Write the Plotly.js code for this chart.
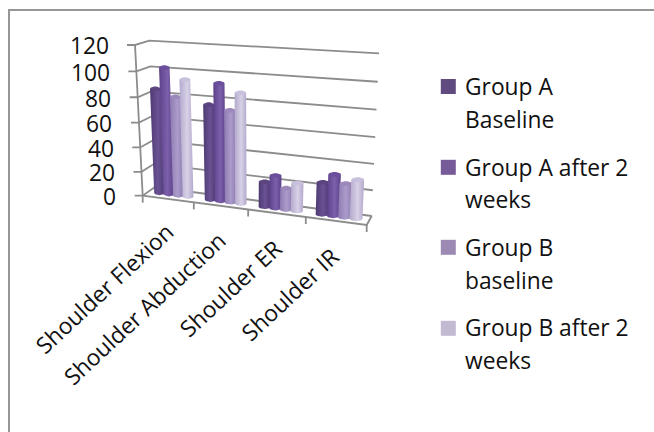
<!DOCTYPE html>
<html>
<head>
<meta charset="utf-8">
<script src="https://cdn.plot.ly/plotly-3.0.1.min.js"></script>
<style>html,body{margin:0;padding:0;background:#fff}</style>
</head>
<body>
<div id="chart" style="width:654px;height:432px"></div>
<script>
const categories = ['Shoulder Flexion', 'Shoulder Abduction', 'Shoulder ER', 'Shoulder IR'];
const groupABaseline = [85, 76, 20, 25];
const groupAAfter = [102, 93, 26, 32];
const groupBBaseline = [80, 73, 17, 26];
const groupBAfter = [94, 87, 22, 30];
const valueTicks = [0, 20, 40, 60, 80, 100, 120];
const seriesLines = [['Group A', 'Baseline'], ['Group A after 2', 'weeks'], ['Group B', 'baseline'], ['Group B after 2', 'weeks']];
const swatchColors = ['#5f4b7f', '#775a98', '#9d8ab4', '#c2bad2'];
const bodyColors = [['#4e3a72', '#6a5294'], ['#5c4089', '#7d60ab'], ['#8d7bb0', '#ac9ccb'], ['#b3a9cc', '#d8d1e7']];
const capColors = ['#5c4480', '#6c4e9c', '#9c88ba', '#c8c0dc'];

const allSeries = [groupABaseline, groupAAfter, groupBBaseline, groupBAfter];
const FONT = 'Open Sans, Noto Sans, sans-serif';
const TEXT = '#111111';
const GRID = '#8c8c8c';

// Oblique projection of the 3D box: floor corners and height vectors per value unit.
const floorFL = [142.7, 195.7], floorFR = [366.7, 225], floorBL = [155, 187], floorBR = [371.7, 216];
const riseFL = [-0.064, -1.256], riseFR = [0.07, -1.39], riseBL = [-0.0475, -1.219], riseBR = [0.061, -1.356];
const mix = (a, b, t) => [a[0] + (b[0] - a[0]) * t, a[1] + (b[1] - a[1]) * t];
const along = u => (49.25 * u + 1.625 * u * u) / 223;
const lift = v => v - 0.0005 * v * (120 - v);
function project(u, depth, v) {
  const s = along(u);
  const base = mix(mix(floorFL, floorFR, s), mix(floorBL, floorBR, s), depth);
  const rise = mix(mix(riseFL, riseFR, s), mix(riseBL, riseBR, s), depth);
  const h = lift(v);
  return [base[0] + rise[0] * h, base[1] + rise[1] * h];
}
// Page position to axis units: categories along x, value units along y.
const toX = px => (px - 142.7) / 55.75;
const toY = py => (195.7 - py) / 1.256;
const pairs = pts => ({ x: pts.map(p => p === null ? null : toX(p[0])), y: pts.map(p => p === null ? null : toY(p[1])) });

const traces = [];
function gridTrace(pts, width) {
  traces.push(Object.assign(pairs(pts), { type: 'scatter', mode: 'lines', line: { color: GRID, width: width || 1.8 }, hoverinfo: 'skip', showlegend: false }));
}

// Walls, floor and tick marks
const wallLines = [];
valueTicks.forEach(v => {
  const front = project(0, 0, v), back = project(0, 1, v), right = project(4, 1, v);
  wallLines.push([front[0] - 8, front[1]], front, back, right, null);
});
gridTrace(wallLines);
const floorLines = [project(0, 0, 0), project(0, 0, 120), null, project(0, 0, 0), project(4, 0, 0), project(4, 1, 0), null];
categories.concat(['']).forEach((c, i) => {
  const p = project(i, 0, 0);
  floorLines.push(p, [p[0], p[1] + 7], null);
});
gridTrace(floorLines);

// Cylinders
const PITCH = 0.19, RADIUS = 0.105, RY = 2.4, DEPTH = 0.5, START = 0.215;
function ellipseArc(c, rx, ry, a0, a1) {
  const pts = [];
  for (let i = 0; i <= 14; i++) {
    const a = a0 + (a1 - a0) * i / 14;
    pts.push([c[0] + rx * Math.cos(a), c[1] + ry * Math.sin(a)]);
  }
  return pts;
}
categories.forEach((cat, ci) => {
  allSeries.forEach((vals, si) => {
    const u = ci + START + PITCH * si;
    const c = project(u, DEPTH, 0), t = project(u, DEPTH, vals[ci]);
    const rx = project(u + RADIUS, DEPTH, 0)[0] - c[0];
    const name = seriesLines[si].join(' ');
    const body = ellipseArc(c, rx, RY, 0, Math.PI).concat([[t[0] - rx, t[1]], [t[0] + rx, t[1]]]);
    body.push(body[0]);
    traces.push(Object.assign(pairs(body), {
      type: 'scatter', mode: 'lines', name, fill: 'toself', line: { width: 0 }, hoverinfo: 'skip', showlegend: false,
      fillgradient: { type: 'horizontal', colorscale: [[0, bodyColors[si][0]], [0.55, bodyColors[si][1]], [1, bodyColors[si][0]]] }
    }));
    traces.push(Object.assign(pairs(ellipseArc(t, rx, RY, 0, 2 * Math.PI)), {
      type: 'scatter', mode: 'lines', name, fill: 'toself', fillcolor: capColors[si], line: { width: 0 }, hoverinfo: 'skip', showlegend: false
    }));
  });
});

// Legend swatches
const legendY = [86.5, 167.3, 247.3, 328.3];
traces.push({
  type: 'scatter', mode: 'markers', x: legendY.map(() => toX(448.3)), y: legendY.map(toY),
  marker: { symbol: 'square', size: 15, color: swatchColors, line: { width: 0 } }, hoverinfo: 'skip', showlegend: false
});

const annotations = [];
const label = (text, px, py, opts) => annotations.push(Object.assign({
  text, x: toX(px), y: toY(py), xref: 'x', yref: 'y', showarrow: false, font: { family: FONT, size: 22.8, color: TEXT }
}, opts));
valueTicks.forEach(v => {
  const p = project(0, 0, v);
  label(String(v), p[0] - 24.5, p[1] + 1, { xanchor: 'right', yanchor: 'middle' });
});
const catEnds = [[183, 214], [235, 222], [291, 230], [348, 239]];
categories.forEach((c, i) => label(c, catEnds[i][0], catEnds[i][1], { xanchor: 'right', yanchor: 'top', textangle: -43 }));
const legendLineY = [[86.7, 119.3], [167.3, 199.3], [247.3, 280], [327, 360]];
seriesLines.forEach((lines, i) => lines.forEach((t, j) => label(t, 463, legendLineY[i][j], { xanchor: 'left', yanchor: 'middle' })));

const hidden = { visible: false, fixedrange: true };
const layout = {
  width: 654, height: 432, margin: { l: 0, r: 0, t: 0, b: 0 }, paper_bgcolor: '#fff', plot_bgcolor: '#fff', showlegend: false,
  xaxis: Object.assign({ range: [toX(0), toX(654)] }, hidden),
  yaxis: Object.assign({ range: [toY(432), toY(0)] }, hidden),
  annotations,
  shapes: [{
    type: 'path', xref: 'paper', yref: 'paper', path: `M ${9 / 654} 0 L ${9 / 654} ${1 - 10 / 432} L 1 ${1 - 10 / 432}`,
    line: { color: '#969696', width: 2 }
  }]
};
Plotly.newPlot('chart', traces, layout, { displayModeBar: false, staticPlot: true });
</script>
</body>
</html>
